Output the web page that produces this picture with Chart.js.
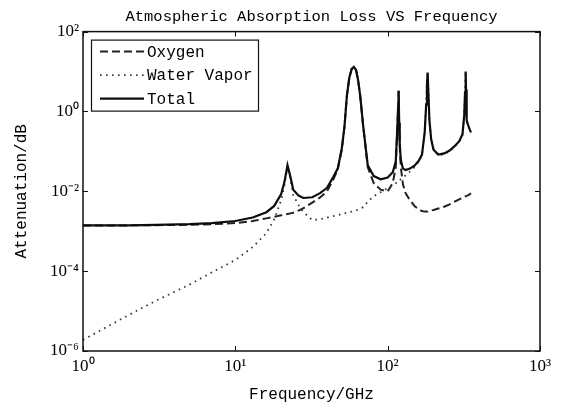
<!DOCTYPE html>
<html>
<head>
<meta charset="utf-8">
<script src="https://cdn.jsdelivr.net/npm/chart.js@4.4.1/dist/chart.umd.min.js"></script>
<style>
  html, body { margin: 0; padding: 0; background: #fff; }
  #wrap { width: 561px; height: 409px; }
</style>
</head>
<body>
<div id="wrap"><canvas id="absorptionChart" width="561" height="409"></canvas></div>
<script>
// frequencies in GHz, attenuation in dB
const freqGHz = [1, 2, 3, 5, 7, 10, 13, 16, 18, 20, 21, 22, 23, 24, 26, 28, 32, 36, 40, 44,
  47, 50, 52, 54, 56, 58, 60, 62, 64, 66, 69, 74, 81, 90, 100, 108, 113, 116, 117, 118,
  119, 120, 122, 126, 131, 140, 150, 160, 168, 175, 179, 181, 183, 185, 188, 193, 200, 215, 235, 255,
  275, 295, 310, 318, 322, 325, 327, 330, 338, 345, 352];

const oxygenDB = [1.4e-3, 1.4e-3, 1.42e-3, 1.45e-3, 1.5e-3, 1.6e-3, 1.8e-3, 2.1e-3, 2.3e-3, 2.5e-3,
  2.6e-3, 2.7e-3, 2.8e-3, 2.9e-3, 3.3e-3, 3.8e-3, 5.2e-3, 7e-3, 0.01, 0.02,
  0.035, 0.11, 0.4, 2.5, 7, 11.5, 13, 11, 6, 2.5,
  0.45, 0.04, 0.016, 0.011, 0.01, 0.016, 0.04, 0.45, 1.2, 3.3,
  0.5, 0.14, 0.04, 0.015, 9e-3, 6e-3, 4.3e-3, 3.5e-3, 3.2e-3, 3.1e-3,
  3.1e-3, 3.1e-3, 3.1e-3, 3.2e-3, 3.2e-3, 3.3e-3, 3.4e-3, 3.7e-3, 4.1e-3, 4.7e-3,
  5.5e-3, 6.3e-3, 6.9e-3, 7.2e-3, 7.4e-3, 7.5e-3, 7.6e-3, 7.7e-3, 8e-3, 8.4e-3, 8.9e-3];

const waterVaporDB = [1.9e-6, 8e-6, 1.8e-5, 4.6e-5, 9.3e-5, 1.9e-4, 4e-4, 9e-4, 2e-3, 6e-3,
  0.014, 0.042, 0.02, 8e-3, 4.5e-3, 3e-3, 1.9e-3, 2e-3, 2.2e-3, 2.4e-3,
  2.5e-3, 2.7e-3, 2.8e-3, 2.9e-3, 3e-3, 3.1e-3, 3.2e-3, 3.3e-3, 3.5e-3, 3.7e-3,
  4e-3, 5.5e-3, 7.5e-3, 9.5e-3, 0.012, 0.014, 0.016, 0.017, 0.018, 0.018,
  0.019, 0.019, 0.02, 0.022, 0.025, 0.031, 0.04, 0.055, 0.08, 0.3,
  1.5, 4.5, 9.4, 3, 0.6, 0.2, 0.11, 0.08, 0.085, 0.1,
  0.13, 0.17, 0.26, 0.8, 3, 10, 3.5, 0.6, 0.45, 0.35, 0.29];

const totalDB = [1.4e-3, 1.4e-3, 1.44e-3, 1.5e-3, 1.6e-3, 1.8e-3, 2.2e-3, 3e-3, 4.3e-3, 8.5e-3,
  0.017, 0.045, 0.023, 0.011, 7.8e-3, 6.8e-3, 7.1e-3, 9e-3, 0.0122, 0.023,
  0.037, 0.12, 0.4, 2.5, 7, 11.5, 13, 11, 6, 2.5,
  0.45, 0.045, 0.024, 0.02, 0.022, 0.03, 0.056, 0.47, 1.2, 3.3,
  0.52, 0.16, 0.06, 0.037, 0.034, 0.037, 0.044, 0.058, 0.083, 0.3,
  1.5, 4.5, 9.4, 3, 0.6, 0.2, 0.11, 0.083, 0.089, 0.105,
  0.135, 0.18, 0.27, 0.8, 3, 10, 3.5, 0.6, 0.45, 0.36, 0.3];

const xTicks = [1, 10, 100, 1000];
const xTickLabels = ['10⁰', '10¹', '10²', '10³'];
const yTicks = [1e-6, 1e-4, 1e-2, 1, 100];
const yTickLabels = ['10⁻⁶', '10⁻⁴', '10⁻²', '10⁰', '10²'];

const monoFont = 'Liberation Mono';
const serifFont = 'Liberation Serif';

function points(vals) {
  return freqGHz.map((f, i) => ({ x: f, y: vals[i] }));
}

// box around the plot + inward ticks on all four sides
const framePlugin = {
  id: 'frame',
  afterDatasetsDraw(chart) {
    const { ctx, chartArea: a } = chart;
    const xs = chart.scales.x, ys = chart.scales.y;
    ctx.save();
    ctx.strokeStyle = '#111';
    ctx.lineWidth = 1.5;
    ctx.strokeRect(a.left, a.top, a.right - a.left, a.bottom - a.top);
    ctx.lineWidth = 1;
    ctx.beginPath();
    xTicks.forEach(v => {
      const px = Math.round(xs.getPixelForValue(v)) + 0.5;
      ctx.moveTo(px, a.bottom); ctx.lineTo(px, a.bottom - 5);
      ctx.moveTo(px, a.top); ctx.lineTo(px, a.top + 5);
    });
    yTicks.forEach(v => {
      const py = Math.round(ys.getPixelForValue(v)) + 0.5;
      ctx.moveTo(a.left, py); ctx.lineTo(a.left + 5, py);
      ctx.moveTo(a.right, py); ctx.lineTo(a.right - 5, py);
    });
    ctx.stroke();
    ctx.restore();
  }
};

// legend box in the upper left corner, MATLAB style
const boxLegendPlugin = {
  id: 'boxLegend',
  afterDraw(chart) {
    const { ctx, chartArea: a } = chart;
    const x0 = a.left + 8, y0 = a.top + 8, w = 167, h = 71;
    ctx.save();
    ctx.fillStyle = '#fff';
    ctx.fillRect(x0, y0, w, h);
    ctx.strokeStyle = '#111';
    ctx.lineWidth = 1.2;
    ctx.strokeRect(x0 + 0.5, y0 + 0.5, w, h);
    ctx.font = '16px "' + monoFont + '"';
    ctx.textBaseline = 'middle';
    chart.data.datasets.forEach((ds, i) => {
      const y = y0 + 12 + i * 23.5;
      ctx.beginPath();
      ctx.strokeStyle = ds.borderColor;
      ctx.lineWidth = ds.borderWidth;
      ctx.setLineDash(ds.borderDash || []);
      ctx.moveTo(x0 + 9, y);
      ctx.lineTo(x0 + 53, y);
      ctx.stroke();
      ctx.setLineDash([]);
      ctx.fillStyle = '#000';
      ctx.fillText(ds.label, x0 + 56, y + 1);
    });
    ctx.restore();
  }
};

const ctx = document.getElementById('absorptionChart').getContext('2d');
const absorptionChart = new Chart(ctx, {
  type: 'line',
  data: {
    datasets: [{
      label: 'Oxygen',
      data: points(oxygenDB),
      borderColor: '#222',
      borderWidth: 2,
      borderDash: [8, 4],
      order: 2
    }, {
      label: 'Water Vapor',
      data: points(waterVaporDB),
      borderColor: '#3a3a3a',
      borderWidth: 1.8,
      borderDash: [1.6, 4.4],
      order: 1
    }, {
      label: 'Total',
      data: points(totalDB),
      borderColor: '#0d0d0d',
      borderWidth: 2.2,
      order: 0
    }]
  },
  options: {
    responsive: false,
    animation: false,
    devicePixelRatio: 1,
    elements: { point: { radius: 0 }, line: { tension: 0 } },
    layout: { padding: { left: 0, right: 21, top: 0, bottom: 0 } },
    plugins: {
      legend: { display: false },
      tooltip: { enabled: false },
      title: {
        display: true,
        text: 'Atmospheric Absorption Loss VS Frequency',
        fullSize: false,
        color: '#000',
        font: { family: monoFont, size: 15.5, weight: 'normal' },
        padding: { top: 8, bottom: 5 }
      }
    },
    scales: {
      x: {
        type: 'logarithmic',
        min: 1,
        max: 1000,
        afterBuildTicks: s => { s.ticks = xTicks.map(v => ({ value: v })); },
        afterFit: s => { s.height = 58; },
        grid: { display: false, drawTicks: false },
        border: { display: false },
        ticks: {
          padding: 5,
          color: '#000',
          font: { family: serifFont, size: 17 },
          callback: v => xTickLabels[xTicks.indexOf(v)]
        },
        title: {
          display: true,
          text: 'Frequency/GHz',
          color: '#000',
          font: { family: monoFont, size: 16 },
          padding: { top: 4, bottom: 5 }
        }
      },
      y: {
        type: 'logarithmic',
        min: 1e-6,
        max: 100,
        afterBuildTicks: s => { s.ticks = yTicks.map(v => ({ value: v })); },
        afterFit: s => { s.width = 83; },
        grid: { display: false, drawTicks: false },
        border: { display: false },
        ticks: {
          padding: 4,
          color: '#000',
          font: { family: serifFont, size: 17 },
          callback: v => yTickLabels[yTicks.indexOf(v)]
        },
        title: {
          display: true,
          text: 'Attenuation/dB',
          color: '#000',
          font: { family: monoFont, size: 16 },
          padding: { top: 12, bottom: 4 }
        }
      }
    }
  },
  plugins: [framePlugin, boxLegendPlugin]
});
</script>
</body>
</html>
